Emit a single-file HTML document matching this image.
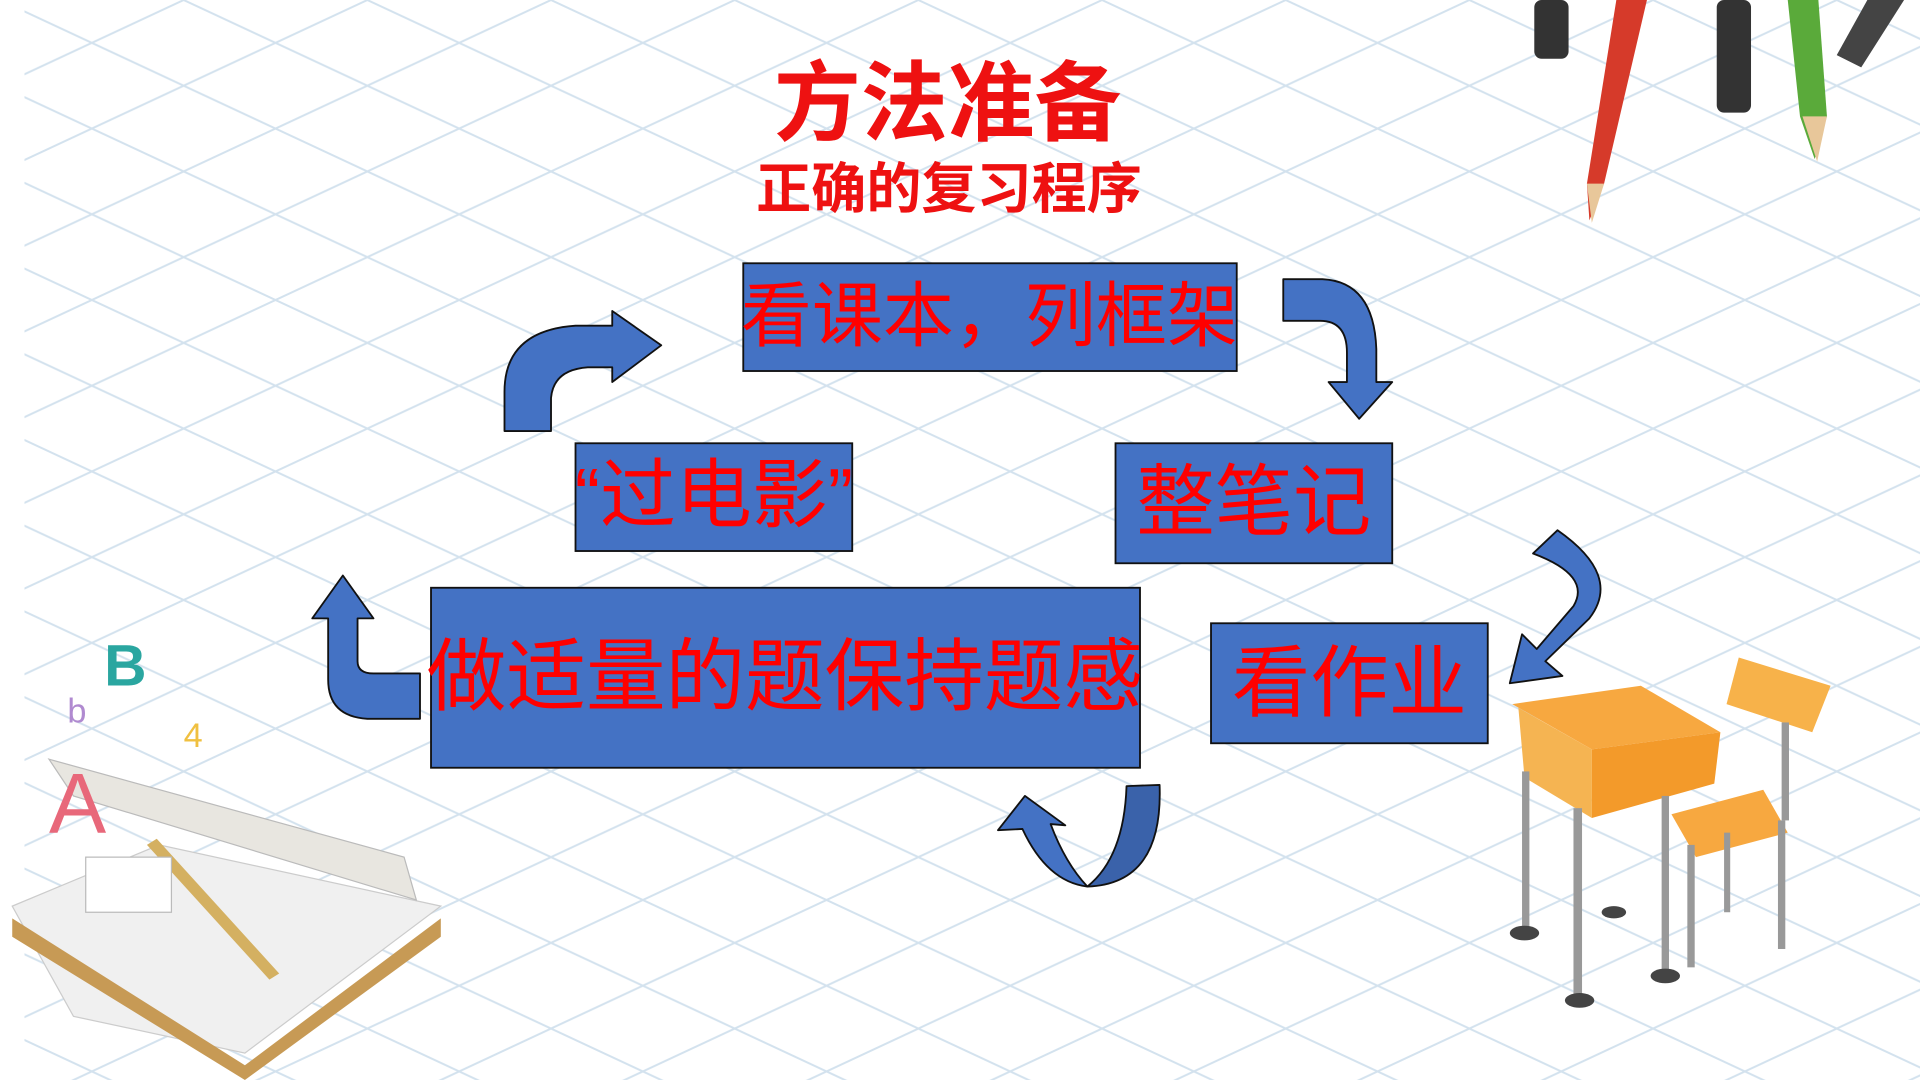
<!DOCTYPE html>
<html><head><meta charset="utf-8"><style>
html,body{margin:0;padding:0;width:1920px;height:1080px;overflow:hidden;background:#fff}
svg{display:block}
text{font-family:"Liberation Sans","Noto Sans CJK SC",sans-serif}
</style></head><body>
<svg width="1920" height="1080" viewBox="0 0 1568 882" xmlns="http://www.w3.org/2000/svg">
<defs>
<pattern id="g" width="150" height="70" patternUnits="userSpaceOnUse">
<path d="M0,0 L150,70 M0,70 L150,0 M-75,35 L0,70 M150,0 L225,35 M-75,35 L0,0 M150,70 L225,35" stroke="#d3e2ee" stroke-width="1.6" fill="none"/>
</pattern>
</defs>
<rect width="1568" height="882" fill="#fff"/>
<rect x="20" width="1548" height="882" fill="url(#g)"/>

<!-- pencils -->
<g>
<rect x="1253" y="0" width="28" height="48" rx="6" fill="#333"/>
<polygon points="1320,0 1345,0 1310,150 1298,180 1296,150" fill="#d63a2a"/>
<polygon points="1296,150 1310,150 1300,182" fill="#e8c79a"/>
<rect x="1402" y="0" width="28" height="92" rx="6" fill="#333"/>
<polygon points="1460,0 1485,0 1492,95 1482,130 1470,95" fill="#5aaa3a"/>
<polygon points="1472,95 1492,95 1484,132" fill="#e8c79a"/>
<polygon points="1525,0 1555,0 1520,55 1500,45" fill="#444"/>
</g>

<!-- book bottom left -->
<g>
<polygon points="10,740 130,690 360,740 200,860 60,830" fill="#f0f0f0" stroke="#ccc"/>
<polygon points="10,750 200,870 360,750 360,765 200,882 10,765" fill="#c79a55"/>
<polygon points="40,620 330,700 340,735 60,650" fill="#e8e6e0" stroke="#bbb"/>
<polygon points="120,690 220,800 228,795 128,685" fill="#d4b061"/>
<rect x="70" y="700" width="70" height="45" fill="#fff" stroke="#bbb"/>
<text x="85" y="560" font-size="48" fill="#2aa6a0" font-weight="bold">B</text>
<text x="40" y="680" font-size="70" fill="#e8687a">A</text>
<text x="55" y="590" font-size="28" fill="#b08ad0">b</text>
<text x="150" y="610" font-size="28" fill="#f0c040">4</text>
</g>

<!-- desk and chair -->
<g>
<polygon points="1235,575 1340,560 1405,598 1300,612" fill="#f7a840"/>
<polygon points="1240,578 1300,612 1300,668 1245,635" fill="#f5b452"/>
<polygon points="1300,612 1405,598 1400,640 1300,668" fill="#f39a2a"/>
<rect x="1285" y="660" width="7" height="155" fill="#999"/>
<rect x="1243" y="630" width="6" height="130" fill="#999"/>
<rect x="1357" y="650" width="6" height="150" fill="#999"/>
<ellipse cx="1290" cy="817" rx="12" ry="6" fill="#444"/>
<ellipse cx="1245" cy="762" rx="12" ry="6" fill="#444"/>
<ellipse cx="1360" cy="797" rx="12" ry="6" fill="#444"/>
<ellipse cx="1318" cy="745" rx="10" ry="5" fill="#444"/>
<polygon points="1420,537 1495,560 1480,598 1410,575" fill="#f7b24a"/>
<rect x="1455" y="590" width="6" height="80" fill="#999"/>
<polygon points="1365,665 1440,645 1460,680 1385,700" fill="#f7a840"/>
<rect x="1378" y="690" width="6" height="100" fill="#999"/>
<rect x="1452" y="670" width="6" height="105" fill="#999"/>
<rect x="1408" y="680" width="5" height="65" fill="#999"/>
</g>

<!-- titles -->
<text x="774" y="109" font-size="71" font-weight="bold" fill="#ee1111" text-anchor="middle">方法准备</text>
<text x="775" y="170" font-size="45" font-weight="bold" fill="#ee1111" text-anchor="middle">正确的复习程序</text>

<!-- boxes -->
<g stroke="#111" stroke-width="1.5" fill="#4472c4">
<rect x="607" y="215" width="403" height="88"/>
<rect x="470" y="362" width="226" height="88"/>
<rect x="911" y="362" width="226" height="98"/>
<rect x="352" y="480" width="579" height="147"/>
<rect x="989" y="509" width="226" height="98"/>
</g>
<g fill="#ff0000" text-anchor="middle">
<text x="808" y="278" font-size="58">看课本，列框架</text>
<text x="583" y="426" font-size="62">“过电影”</text>
<text x="1024" y="432" font-size="64">整笔记</text>
<text x="641" y="575" font-size="65">做适量的题保持题感</text>
<text x="1102" y="580" font-size="64">看作业</text>
</g>

<!-- arrows -->
<g fill="#4472c4" stroke="#111" stroke-width="1.5" stroke-linejoin="round">
<path d="M412,352 L450,352 L450,325 Q452,302 480,300 L500,300 L500,312 L540,282 L500,254 L500,266 L470,266 Q412,270 412,320 Z"/>
<path d="M1048,228 L1080,228 Q1122,230 1124,285 L1124,312 L1137,312 L1110,342 L1085,312 L1100,312 L1100,288 Q1100,262 1078,262 L1048,262 Z"/>
<path d="M1272,433 Q1325,470 1298,505 L1262,540 L1276,552 L1233,558 L1243,518 L1255,530 L1285,495 Q1300,470 1252,452 Z"/>
<path d="M343,550 L343,587 L300,587 Q268,585 268,555 L268,505 L255,505 L280,470 L305,505 L292,505 L292,540 Q292,550 305,550 Z"/>
<path d="M888,724 Q855,720 835,677 L815,678 L837,650 L870,674 L858,673 Q870,705 888,724 Z"/>
<path d="M920,642 L947,641 Q950,722 888,724 Q918,700 920,642 Z" fill="#3a62aa"/>
</g>
</svg>
</body></html>
